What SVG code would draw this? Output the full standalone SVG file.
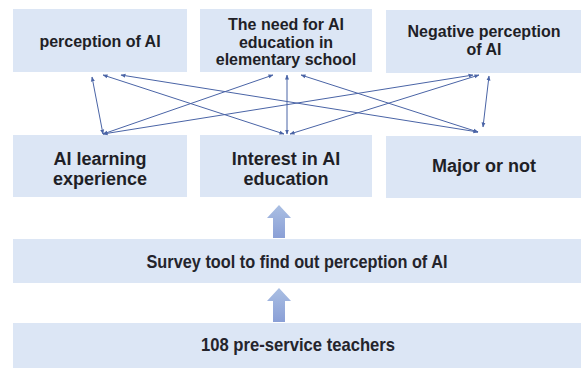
<svg xmlns="http://www.w3.org/2000/svg" width="588" height="369" viewBox="0 0 588 369">
  <style>
    .box { fill: #dce6f5; }
    .t { font-family: "Liberation Sans", Arial, sans-serif; fill: #1f1f27; text-anchor: middle; }
    .top { font-size: 16px; font-weight: bold; }
    .mid { font-size: 18px; font-weight: bold; }
    .low { font-size: 18.5px; font-weight: bold; fill: #24242c; }
    .link { stroke: #4a64a6; stroke-width: 1; fill: none; marker-start: url(#tip); marker-end: url(#tip); }
  </style>
  <defs>
    <marker id="tip" viewBox="0 0 10 10" refX="9" refY="5" markerWidth="5" markerHeight="5" orient="auto-start-reverse" markerUnits="userSpaceOnUse">
      <path d="M0,1 L10,5 L0,9 z" fill="#4a64a6"/>
    </marker>
    <linearGradient id="up" x1="0" y1="0" x2="0" y2="1">
      <stop offset="0" stop-color="#aabfe3"/>
      <stop offset="1" stop-color="#8a9fd6"/>
    </linearGradient>
  </defs>

  <rect width="588" height="369" fill="#ffffff"/>

  <!-- top row -->
  <g id="perception">
    <rect class="box" x="13" y="9" width="174" height="63"/>
    <text class="t top" x="100" y="47">perception of AI</text>
  </g>
  <g id="need">
    <rect class="box" x="200" y="9" width="172" height="63"/>
    <text class="t top" x="286" y="30">The need for AI</text>
    <text class="t top" x="286" y="48">education in</text>
    <text class="t top" x="286" y="65">elementary school</text>
  </g>
  <g id="negative">
    <rect class="box" x="386" y="10" width="195" height="63"/>
    <text class="t top" x="484" y="37">Negative perception</text>
    <text class="t top" x="484" y="55">of AI</text>
  </g>

  <!-- middle row -->
  <g id="learning">
    <rect class="box" x="13" y="135" width="174" height="62"/>
    <text class="t mid" x="100" y="165">AI learning</text>
    <text class="t mid" x="100" y="185">experience</text>
  </g>
  <g id="interest">
    <rect class="box" x="200" y="135" width="172" height="62"/>
    <text class="t mid" x="286" y="165">Interest in AI</text>
    <text class="t mid" x="286" y="185">education</text>
  </g>
  <g id="major">
    <rect class="box" x="386" y="136" width="195" height="62"/>
    <text class="t mid" x="484" y="172">Major or not</text>
  </g>

  <!-- survey and participants -->
  <g id="survey">
    <rect class="box" x="13" y="239" width="568" height="44"/>
    <text class="t low" x="297" y="268" textLength="301" lengthAdjust="spacingAndGlyphs">Survey tool to find out perception of AI</text>
  </g>
  <g id="teachers">
    <rect class="box" x="13" y="323" width="568" height="45"/>
    <text class="t low" x="298" y="351" textLength="194" lengthAdjust="spacingAndGlyphs">108 pre-service teachers</text>
  </g>

  <!-- two-way links between factors -->
  <g id="connectors">
    <line class="link" x1="103" y1="134" x2="92" y2="77"/>
    <line class="link" x1="103" y1="134" x2="273" y2="75"/>
    <line class="link" x1="103" y1="134" x2="473" y2="75"/>
    <line class="link" x1="284" y1="134" x2="103" y2="75"/>
    <line class="link" x1="287" y1="134" x2="287" y2="75"/>
    <line class="link" x1="290" y1="134" x2="479" y2="75"/>
    <line class="link" x1="478" y1="132" x2="121" y2="75"/>
    <line class="link" x1="478" y1="132" x2="301" y2="75"/>
    <line class="link" x1="483" y1="127" x2="489" y2="76"/>
  </g>

  <!-- upward block arrows -->
  <g id="flow">
    <path d="M279,205 L291,218 L285,218 L285,238 L273,238 L273,218 L267,218 Z" fill="url(#up)"/>
    <path d="M279,288 L291,301 L285,301 L285,322 L273,322 L273,301 L267,301 Z" fill="url(#up)"/>
  </g>
</svg>
